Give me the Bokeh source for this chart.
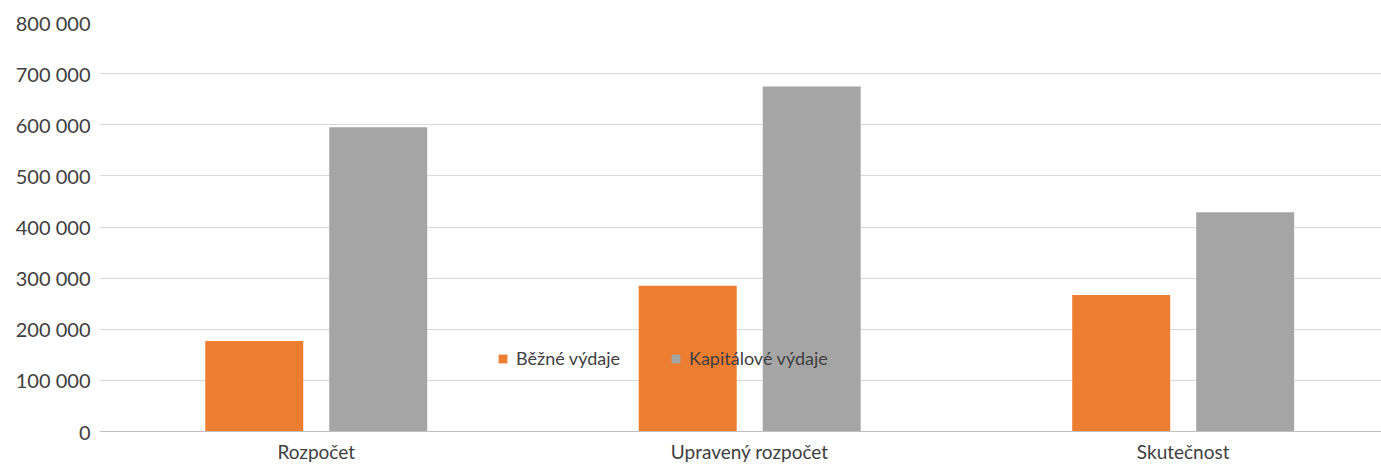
from bokeh.plotting import figure
from bokeh.models import ColumnDataSource, Range1d, FixedTicker, Legend, LegendItem, CustomJSTickFormatter
from bokeh.transform import dodge
from bokeh.embed import file_html
from bokeh.resources import INLINE

categories = ["Rozpočet", "Upravený rozpočet", "Skutečnost"]
bezne = [177000, 285000, 267000]
kapitalove = [595000, 675000, 429000]
series_names = ["Běžné výdaje", "Kapitálové výdaje"]
y_ticks = [0, 100000, 200000, 300000, 400000, 500000, 600000, 700000, 800000]

xpos = [i + 0.5 for i in range(len(categories))]
src = ColumnDataSource(dict(x=xpos, bezne=bezne, kap=kapitalove))

FONT = "Lato"
TXT = "#404040"

p = figure(width=1381, height=465, output_backend="svg", toolbar_location=None,
           x_range=Range1d(0, 2.9575), y_range=Range1d(0, 800000),
           min_border_left=99, min_border_right=0, min_border_top=22, min_border_bottom=31)
p.outline_line_color = None
p.background_fill_color = "white"
p.border_fill_color = "white"

r1 = p.vbar(x=dodge("x", -0.143), top="bezne", width=0.226, source=src,
            fill_color="#ED7D31", line_color=None)
r2 = p.vbar(x=dodge("x", 0.143), top="kap", width=0.226, source=src,
            fill_color="#A5A5A5", line_color=None)

p.xgrid.visible = False
p.ygrid.grid_line_color = "#d9d9d9"
p.ygrid.grid_line_width = 1

p.yaxis.ticker = FixedTicker(ticks=y_ticks)
p.yaxis.formatter = CustomJSTickFormatter(code="return tick.toString().replace(/\\B(?=(\\d{3})+(?!\\d))/g, ' ');")
p.yaxis.axis_line_color = None
p.yaxis.major_tick_line_color = None
p.yaxis.minor_tick_line_color = None
p.yaxis.major_tick_out = 0
p.yaxis.major_label_standoff = 9
p.yaxis.major_label_text_font = FONT
p.yaxis.major_label_text_font_size = "20px"
p.yaxis.major_label_text_color = TXT

p.xaxis.ticker = FixedTicker(ticks=xpos)
p.xaxis.major_label_overrides = {x: c for x, c in zip(xpos, categories)}
p.xaxis.axis_line_color = "#bfbfbf"
p.xaxis.axis_line_width = 1
p.xaxis.major_tick_line_color = None
p.xaxis.minor_tick_line_color = None
p.xaxis.major_tick_out = 0
p.xaxis.major_label_standoff = 8
p.xaxis.major_label_text_font = FONT
p.xaxis.major_label_text_font_size = "19px"
p.xaxis.major_label_text_color = TXT

legend = Legend(items=[LegendItem(label=series_names[0], renderers=[r1]),
                       LegendItem(label=series_names[1], renderers=[r2])],
                orientation="horizontal", location=(398, 62))
legend.background_fill_alpha = 0
legend.border_line_color = None
legend.padding = 0
legend.margin = 0
legend.glyph_width = 11
legend.glyph_height = 11
legend.label_standoff = 8
legend.spacing = 50
legend.label_text_font = FONT
legend.label_text_font_size = "18px"
legend.label_text_color = TXT
legend.label_height = 11
p.add_layout(legend, "center")

open("out.html", "w").write(file_html(p, INLINE))
